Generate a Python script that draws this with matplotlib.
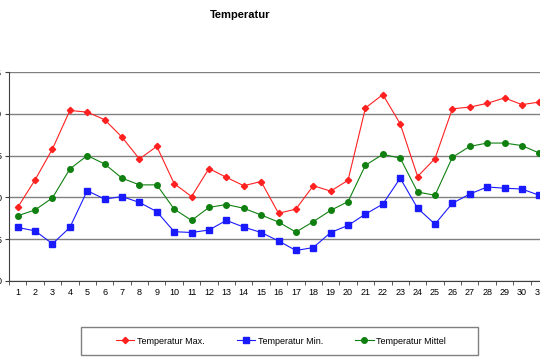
import matplotlib
matplotlib.use("Agg")
import matplotlib.pyplot as plt
import matplotlib.patches as patches

plt.rcParams['font.family'] = ['Liberation Sans', 'DejaVu Sans']

# Tage des Monats
tage = list(range(1, 32))

t_max = [8.8, 12.1, 15.8, 20.4, 20.2, 19.3, 17.2, 14.6, 16.1, 11.65,
         10.1, 13.45, 12.4, 11.4, 11.9, 8.1, 8.6, 11.4, 10.75, 12.05,
         20.7, 22.3, 18.8, 12.5, 14.65, 20.6, 20.8, 21.25, 21.9, 21.1, 21.4]
t_min = [6.4, 6.0, 4.45, 6.4, 10.8, 9.8, 10.1, 9.4, 8.3, 5.9,
         5.8, 6.1, 7.25, 6.45, 5.8, 4.8, 3.65, 4.0, 5.8, 6.65,
         8.0, 9.2, 12.3, 8.7, 6.8, 9.3, 10.4, 11.25, 11.1, 11.0, 10.25]
t_mittel = [7.8, 8.5, 9.95, 13.4, 15.0, 14.0, 12.3, 11.5, 11.5, 8.6,
            7.25, 8.8, 9.15, 8.7, 7.9, 7.05, 5.85, 7.1, 8.45, 9.5,
            13.85, 15.15, 14.7, 10.65, 10.25, 14.8, 16.1, 16.5, 16.5, 16.2, 15.3]

fig = plt.figure(figsize=(5.4, 3.6), dpi=100)
ax = fig.add_axes([9/540, 1-281/360, 539/540, 209/360])

ax.plot(tage, t_max, color='#ff2020', lw=0.8, marker='D', ms=3.2, label='Temperatur Max.')
ax.plot(tage, t_min, color='#1a1aff', lw=0.8, marker='s', ms=4, label='Temperatur Min.')
ax.plot(tage, t_mittel, color='#108010', lw=0.8, marker='o', ms=4, label='Temperatur Mittel')

ax.set_xlim(0.5, 31.5)
ax.set_ylim(0, 25)
ax.set_yticks([0, 5, 10, 15, 20, 25])
ax.set_xticks(tage)
ax.set_xticks([i + 0.5 for i in range(0, 32)], minor=True)
ax.tick_params(axis='x', which='major', length=0, labelsize=6.5, pad=5)
ax.tick_params(axis='x', which='minor', length=3, color='#404040')
ax.tick_params(axis='y', length=3, labelsize=6.5, pad=2, color='#404040')
ax.yaxis.grid(True, color='#808080', lw=1)
ax.set_axisbelow(True)
for s in ['top', 'right']:
    ax.spines[s].set_visible(False)
ax.spines['left'].set_color('#404040')
ax.spines['bottom'].set_color('#404040')

fig.text(240/540, 1-15/360, 'Temperatur', fontsize=8, fontweight='bold', ha='center', va='center')

# Legende
rect = patches.Rectangle((81/540, 1-355/360), 397/540, 28/360, transform=fig.transFigure,
                         fill=False, edgecolor='#808080', lw=1)
fig.patches.append(rect)
fig.legend(loc='center', bbox_to_anchor=(281/540, 1-341/360), ncol=3, frameon=False,
           fontsize=6.5, handlelength=2.0, columnspacing=3.6, handletextpad=0.3)

plt.savefig('out.png', dpi=100)
